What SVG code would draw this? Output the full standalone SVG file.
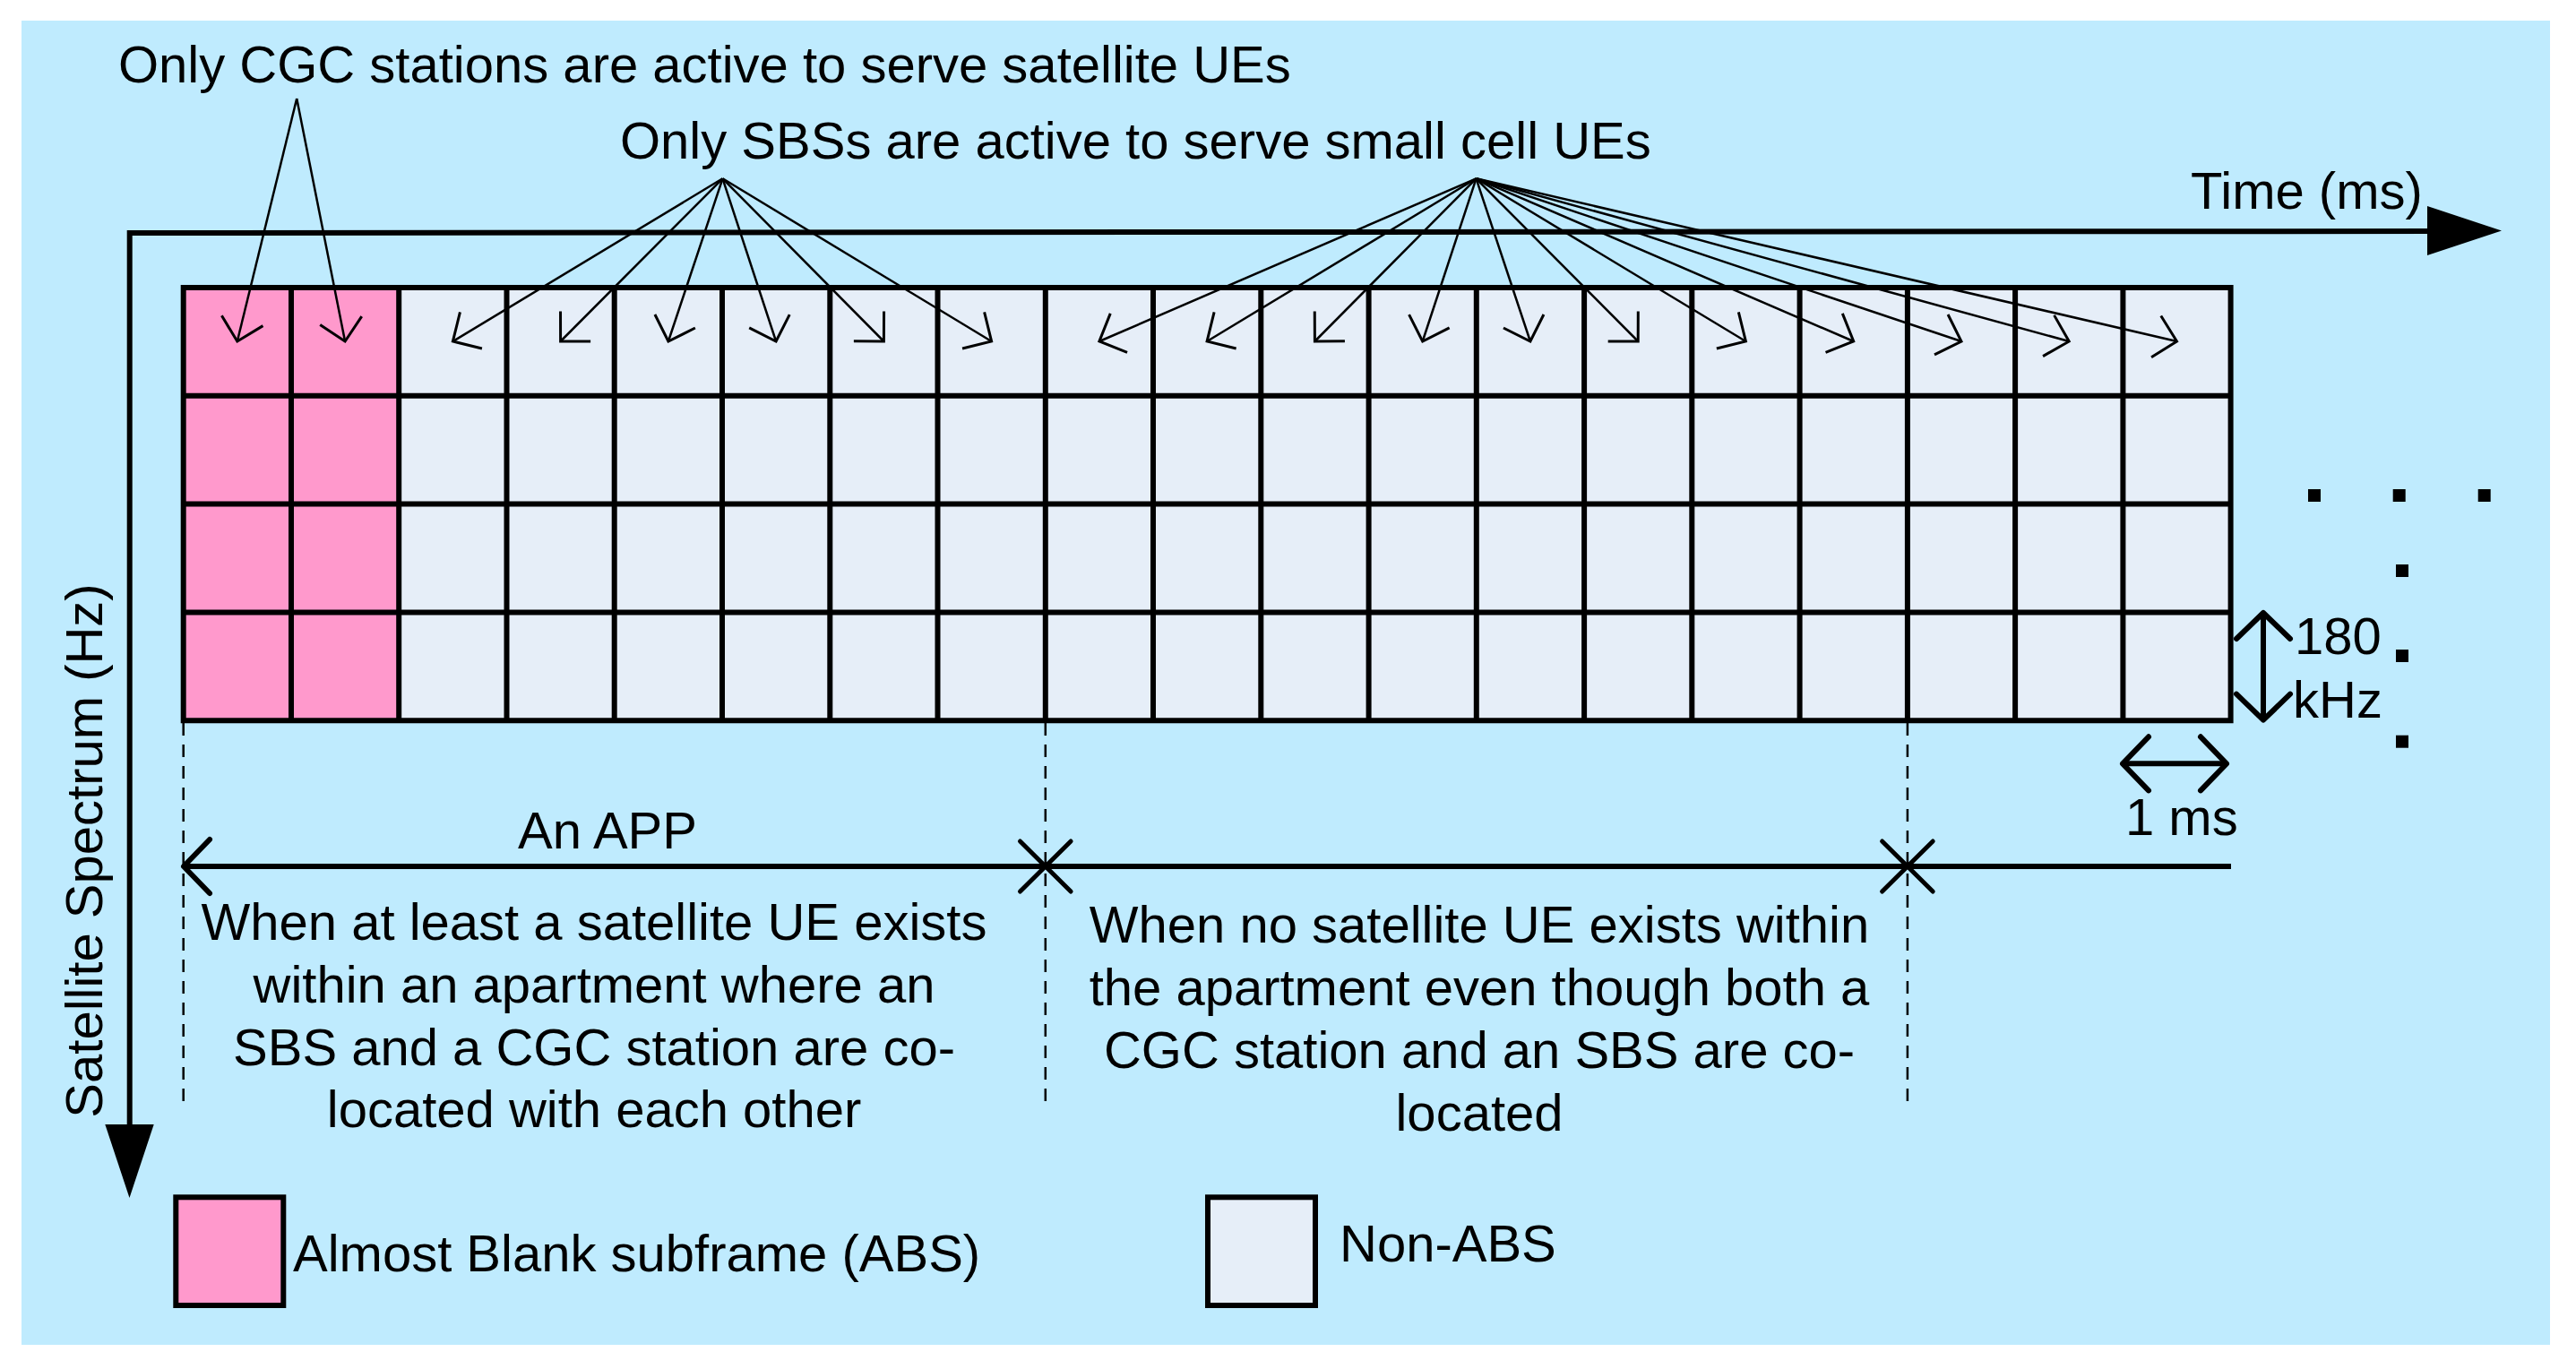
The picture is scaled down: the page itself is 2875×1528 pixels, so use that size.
<svg xmlns="http://www.w3.org/2000/svg" width="2875" height="1528" viewBox="0 0 2875 1528">
<style>
text{font-family:"Liberation Sans",Arial,sans-serif;font-size:58px;fill:#000}
.mid{text-anchor:middle}
.grid{stroke:#000;stroke-width:6;fill:none;stroke-linecap:square}
.thin{stroke:#000;stroke-width:2.5;fill:none}
.bold{stroke:#000;stroke-width:6;fill:none}
.dash{stroke:#000;stroke-width:2.5;stroke-dasharray:14 10;fill:none}
.xm{stroke:#000;stroke-width:5;stroke-linecap:round;fill:none}
.pink{fill:#FF99CC}
.light{fill:#E6EEF8}
</style>
<defs>
<marker id="ah" markerUnits="userSpaceOnUse" orient="auto" overflow="visible" markerWidth="1" markerHeight="1" refX="0" refY="0">
<path d="M-23.7,-23.7 L0,0 L-23.7,23.7" fill="none" stroke="#000" stroke-width="3"/>
</marker>
<marker id="ahb" markerUnits="userSpaceOnUse" orient="auto-start-reverse" overflow="visible" markerWidth="1" markerHeight="1" refX="0" refY="0">
<path d="M-29,-30 L0,0 L-29,30" fill="none" stroke="#000" stroke-width="6" stroke-linecap="round" stroke-linejoin="round"/>
</marker>
</defs>
<rect x="24" y="23" width="2822" height="1478" fill="#BFEBFE"/>

<g id="axes">
<path class="bold" d="M144.7,1256 L144.7,260 L2712,258" stroke-linejoin="miter"/>
<polygon points="2709,230 2792,257.5 2709,285" fill="#000"/>
<polygon points="117.3,1255 171.7,1255 144.5,1337" fill="#000"/>
<text id="time-label" x="2445" y="233">Time (ms)</text>
<text id="spectrum-label" class="mid" transform="translate(114,949.5) rotate(-90)">Satellite Spectrum (Hz)</text>
</g>

<g id="grid">
<rect class="pink" x="204.7" y="321" width="240.5" height="483.2"/>
<rect class="light" x="445.2" y="321" width="2044.4" height="483.2"/>
<path class="grid" d="M204.7,321H2489.6M204.7,441.8H2489.6M204.7,562.6H2489.6M204.7,683.4H2489.6M204.7,804.2H2489.6
M204.7,321V804.2M325,321V804.2M445.2,321V804.2M565.5,321V804.2M685.7,321V804.2M806,321V804.2M926.3,321V804.2M1046.5,321V804.2M1166.8,321V804.2M1287,321V804.2M1407.3,321V804.2M1527.6,321V804.2M1647.8,321V804.2M1768.1,321V804.2M1888.3,321V804.2M2008.6,321V804.2M2128.9,321V804.2M2249.1,321V804.2M2369.4,321V804.2M2489.6,321V804.2"/>
</g>

<g id="dots" fill="#000">
<rect x="2576" y="546" width="14" height="14"/>
<rect x="2670.7" y="546" width="14" height="14"/>
<rect x="2765.7" y="546" width="14" height="14"/>
<rect x="2674" y="630" width="14" height="14"/>
<rect x="2674" y="725" width="14" height="14"/>
<rect x="2674" y="820.7" width="14" height="14"/>
</g>

<g id="label-cgc"><text x="132" y="92">Only CGC stations are active to serve satellite UEs</text></g>
<g id="label-sbs"><text x="692" y="177">Only SBSs are active to serve small cell UEs</text></g>

<g id="connectors">
<g class="thin" marker-end="url(#ah)">
<line x1="331.2" y1="110" x2="264.8" y2="381"/>
<line x1="331.2" y1="110" x2="385.1" y2="381"/>
<line x1="806.5" y1="199.3" x2="505.4" y2="381"/>
<line x1="806.5" y1="199.3" x2="625.6" y2="381"/>
<line x1="806.5" y1="199.3" x2="745.9" y2="381"/>
<line x1="806.5" y1="199.3" x2="866.1" y2="381"/>
<line x1="806.5" y1="199.3" x2="986.4" y2="381"/>
<line x1="806.5" y1="199.3" x2="1106.6" y2="381"/>
<line x1="1647.5" y1="199.3" x2="1226.9" y2="381"/>
<line x1="1647.5" y1="199.3" x2="1347.1" y2="381"/>
<line x1="1647.5" y1="199.3" x2="1467.4" y2="381"/>
<line x1="1647.5" y1="199.3" x2="1587.7" y2="381"/>
<line x1="1647.5" y1="199.3" x2="1707.9" y2="381"/>
<line x1="1647.5" y1="199.3" x2="1828.2" y2="381"/>
<line x1="1647.5" y1="199.3" x2="1948.4" y2="381"/>
<line x1="1647.5" y1="199.3" x2="2068.7" y2="381"/>
<line x1="1647.5" y1="199.3" x2="2189" y2="381"/>
<line x1="1647.5" y1="199.3" x2="2309.2" y2="381"/>
<line x1="1647.5" y1="199.3" x2="2429.5" y2="381"/>
</g>
<line class="bold" x1="2526" y1="684" x2="2526" y2="803.7" marker-start="url(#ahb)" marker-end="url(#ahb)"/>
<line class="bold" x1="2369" y1="852.3" x2="2485" y2="852.3" marker-start="url(#ahb)" marker-end="url(#ahb)"/>
<line class="bold" x1="205" y1="967" x2="2490" y2="967" marker-start="url(#ahb)"/>
<line class="dash" x1="204.7" y1="807" x2="204.7" y2="1233"/>
<line class="dash" x1="1166.8" y1="807" x2="1166.8" y2="1233"/>
<line class="dash" x1="2128.9" y1="807" x2="2128.9" y2="1233"/>
<path class="xm" d="M1138.5,939 L1195.1,995 M1195.1,939 L1138.5,995"/>
<path class="xm" d="M2100.6,939 L2157.2,995 M2157.2,939 L2100.6,995"/>
</g>

<g id="label-180khz"><text x="2561" y="730">180</text><text x="2559" y="801">kHz</text></g>
<g id="label-1ms"><text x="2372" y="932">1 ms</text></g>
<g id="label-app"><text class="mid" x="678" y="947">An APP</text></g>

<g id="desc-left">
<text class="mid" x="663" y="1049">When at least a satellite UE exists</text>
<text class="mid" x="663" y="1119">within an apartment where an</text>
<text class="mid" x="663" y="1189">SBS and a CGC station are co-</text>
<text class="mid" x="663" y="1258">located with each other</text>
</g>
<g id="desc-right">
<text class="mid" x="1651" y="1052">When no satellite UE exists within</text>
<text class="mid" x="1651" y="1122">the apartment even though both a</text>
<text class="mid" x="1651" y="1192">CGC station and an SBS are co-</text>
<text class="mid" x="1651" y="1262">located</text>
</g>

<g id="legend-abs">
<rect class="pink" x="196.3" y="1336.3" width="120" height="120.7" stroke="#000" stroke-width="6"/>
<text x="327" y="1419">Almost Blank subframe (ABS)</text>
</g>
<g id="legend-nonabs">
<rect class="light" x="1348" y="1336.3" width="120" height="120.7" stroke="#000" stroke-width="6"/>
<text x="1495" y="1408">Non-ABS</text>
</g>
</svg>
